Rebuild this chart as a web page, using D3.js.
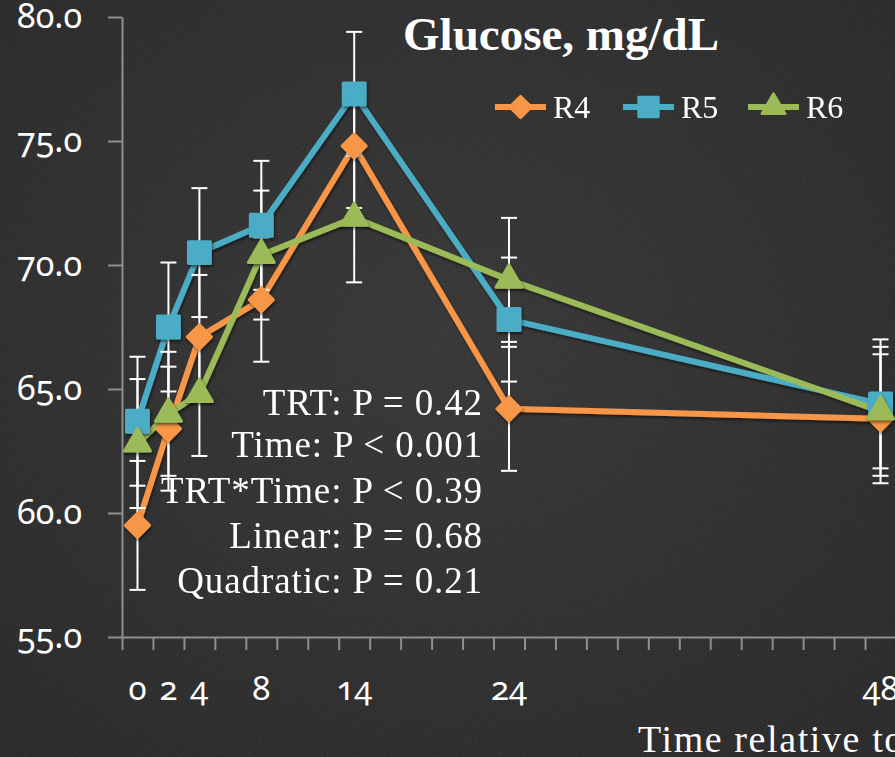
<!DOCTYPE html>
<html>
<head>
<meta charset="utf-8">
<script src="https://cdn.jsdelivr.net/npm/d3@7"></script>
<style>
  html, body { margin: 0; padding: 0; background: #2b2b2b; overflow: hidden; }
  svg { display: block; }
  .serif { font-family: "Liberation Serif", "DejaVu Serif", serif; fill: #fff; }
  .num { font-family: "Noto Sans", "Open Sans", sans-serif; font-variant-numeric: oldstyle-nums; fill: #fff; }
</style>
</head>
<body>
<div id="chart"></div>
<script>
// data
var times = [0, 2, 4, 8, 14, 24, 48];
var r4 = [59.5, 63.4, 67.1, 68.6, 74.8, 64.2, 63.8];
var r5 = [63.7, 67.5, 70.5, 71.6, 76.9, 67.8, 64.4];
var r6 = [62.8, 64.0, 64.8, 70.4, 71.9, 69.4, 64.1];
var r4Err = [2.6, 2.5, 2.5, 2.5, 2.5, 2.5, 2.6];
var r5Err = [2.6, 2.6, 2.6, 2.6, 2.5, 2.5, 2.6];
var r6Err = [2.6, 2.5, 2.5, 2.6, 2.6, 2.5, 2.6];
var seriesNames = ["R4", "R5", "R6"];
var yTicks = [55, 60, 65, 70, 75, 80];
var xTickLabels = ["0", "2", "4", "8", "14", "24", "48"];
var statLines = [
  "TRT: P = 0.42",
  "Time: P < 0.001",
  "TRT*Time: P < 0.39",
  "Linear: P = 0.68",
  "Quadratic: P = 0.21"
];

var width = 895, height = 757;
var colors = ["#F79646", "#4BACC6", "#9BBB59"];

var svg = d3.select("#chart").append("svg")
  .attr("width", width)
  .attr("height", height);

var defs = svg.append("defs");
var bg = defs.append("radialGradient").attr("id", "bgGrad")
  .attr("cx", "50%").attr("cy", "45%").attr("r", "75%");
bg.append("stop").attr("offset", "0%").attr("stop-color", "#313131");
bg.append("stop").attr("offset", "100%").attr("stop-color", "#222222");

var noise = defs.append("filter").attr("id", "chalk")
  .attr("x", 0).attr("y", 0).attr("width", "100%").attr("height", "100%");
noise.append("feTurbulence").attr("type", "fractalNoise")
  .attr("baseFrequency", "0.9").attr("numOctaves", 2).attr("seed", 3);
noise.append("feColorMatrix").attr("type", "matrix")
  .attr("values", "0 0 0 0 1  0 0 0 0 1  0 0 0 0 1  0 0 0 0.09 0");

var shadow = defs.append("filter").attr("id", "shadow")
  .attr("x", "-20%").attr("y", "-20%").attr("width", "140%").attr("height", "140%");
shadow.append("feDropShadow").attr("dx", 1).attr("dy", 2)
  .attr("stdDeviation", 1.5).attr("flood-color", "#000").attr("flood-opacity", 0.55);

svg.append("rect").attr("width", width).attr("height", height).attr("fill", "url(#bgGrad)");
svg.append("rect").attr("width", width).attr("height", height).attr("filter", "url(#chalk)");

// scales
var x = d3.scaleLinear().domain([-1, 49]).range([122, 896]);
var y = d3.scaleLinear().domain([55, 80]).range([637, 17]);

// axes
var xAxis = svg.append("g")
  .attr("transform", "translate(0," + y(55) + ")")
  .call(d3.axisBottom(x).tickValues(d3.range(-1, 50, 2)).tickSize(13).tickSizeOuter(0).tickFormat(""));
xAxis.selectAll("path, line").attr("stroke", "#8f8f8f").attr("stroke-width", 2);

var yAxis = svg.append("g")
  .attr("transform", "translate(" + x(-1) + ",0)")
  .call(d3.axisLeft(y).tickValues(yTicks).tickSize(14).tickSizeOuter(0).tickPadding(26).tickFormat(d3.format(".1f")));
yAxis.selectAll("path, line").attr("stroke", "#8f8f8f").attr("stroke-width", 2);
yAxis.selectAll("text")
  .attr("class", "num")
  .attr("font-size", 34)
  .attr("dy", "0.32em")
  .attr("fill", "#fff");

// x tick labels at the sampling times
svg.append("g").selectAll("text")
  .data(times)
  .enter()
  .append("text")
  .attr("class", "num")
  .attr("x", function (d) { return x(d); })
  .attr("y", 700)
  .attr("text-anchor", "middle")
  .attr("font-size", 33)
  .text(function (d, i) { return xTickLabels[i]; });

svg.append("text")
  .attr("class", "serif")
  .attr("x", 638)
  .attr("y", 752)
  .attr("font-size", 38)
  .attr("letter-spacing", 1.6)
  .text("Time relative to feeding, h");

// series
var series = [r4, r5, r6].map(function (vals, s) {
  var errs = [r4Err, r5Err, r6Err][s];
  return {
    name: seriesNames[s],
    color: colors[s],
    points: vals.map(function (v, i) { return { t: times[i], v: v, e: errs[i] }; })
  };
});

var line = d3.line()
  .x(function (d) { return x(d.t); })
  .y(function (d) { return y(d.v); });

svg.append("g").attr("filter", "url(#shadow)")
  .selectAll("path")
  .data(series)
  .enter()
  .append("path")
  .attr("d", function (d) { return line(d.points); })
  .attr("fill", "none")
  .attr("stroke", function (d) { return d.color; })
  .attr("stroke-width", 6)
  .attr("stroke-linejoin", "round");

// error bars
var allPts = [];
series.forEach(function (s) { s.points.forEach(function (p) { allPts.push(p); }); });
var eb = svg.append("g").attr("stroke", "#fff").attr("stroke-width", 2);
eb.selectAll("line.bar")
  .data(allPts)
  .enter()
  .append("line")
  .attr("x1", function (d) { return x(d.t); })
  .attr("x2", function (d) { return x(d.t); })
  .attr("y1", function (d) { return y(d.v + d.e); })
  .attr("y2", function (d) { return y(d.v - d.e); });
[1, -1].forEach(function (sign) {
  eb.selectAll("line.cap" + sign)
    .data(allPts)
    .enter()
    .append("line")
    .attr("x1", function (d) { return x(d.t) - 8; })
    .attr("x2", function (d) { return x(d.t) + 8; })
    .attr("y1", function (d) { return y(d.v + sign * d.e); })
    .attr("y2", function (d) { return y(d.v + sign * d.e); });
});

// markers
function markerPath(s) {
  if (s === 0) return d3.symbol().type(d3.symbolSquare).size(290)();
  if (s === 1) return d3.symbol().type(d3.symbolSquare).size(480)();
  return d3.symbol().type(d3.symbolTriangle).size(290)();
}
function markerRot(s) { return s === 0 ? " rotate(45)" : ""; }

series.forEach(function (s, si) {
  svg.append("g").attr("filter", "url(#shadow)")
    .selectAll("path")
    .data(s.points)
    .enter()
    .append("path")
    .attr("d", markerPath(si))
    .attr("transform", function (d) {
      return "translate(" + x(d.t) + "," + y(d.v) + ")" + markerRot(si);
    })
    .attr("fill", s.color)
    .attr("stroke", s.color)
    .attr("stroke-width", 3)
    .attr("stroke-linejoin", "round");
});

// title
svg.append("text")
  .attr("class", "serif")
  .attr("x", 561)
  .attr("y", 50)
  .attr("text-anchor", "middle")
  .attr("font-size", 47)
  .attr("font-weight", "bold")
  .text("Glucose, mg/dL");

// legend
var legendX = [495, 623, 748];
var legend = svg.append("g");
series.forEach(function (s, si) {
  var g = legend.append("g").attr("transform", "translate(" + legendX[si] + ",107)");
  g.append("line").attr("x1", 0).attr("x2", 51)
    .attr("stroke", s.color).attr("stroke-width", 6);
  g.append("path")
    .attr("d", markerPath(si))
    .attr("transform", "translate(25.5,0) scale(0.9)" + markerRot(si))
    .attr("fill", s.color).attr("stroke", s.color)
    .attr("stroke-width", 3).attr("stroke-linejoin", "round");
  g.append("text")
    .attr("class", "serif")
    .attr("x", 58)
    .attr("y", 11)
    .attr("font-size", 32)
    .text(s.name);
});

// statistics
svg.append("g").selectAll("text")
  .data(statLines)
  .enter()
  .append("text")
  .attr("class", "serif")
  .attr("x", 483)
  .attr("y", function (d, i) { return [415, 457, 503, 548, 593][i]; })
  .attr("text-anchor", "end")
  .attr("font-size", 37)
  .attr("letter-spacing", 0.9)
  .text(function (d) { return d; });
</script>
</body>
</html>
